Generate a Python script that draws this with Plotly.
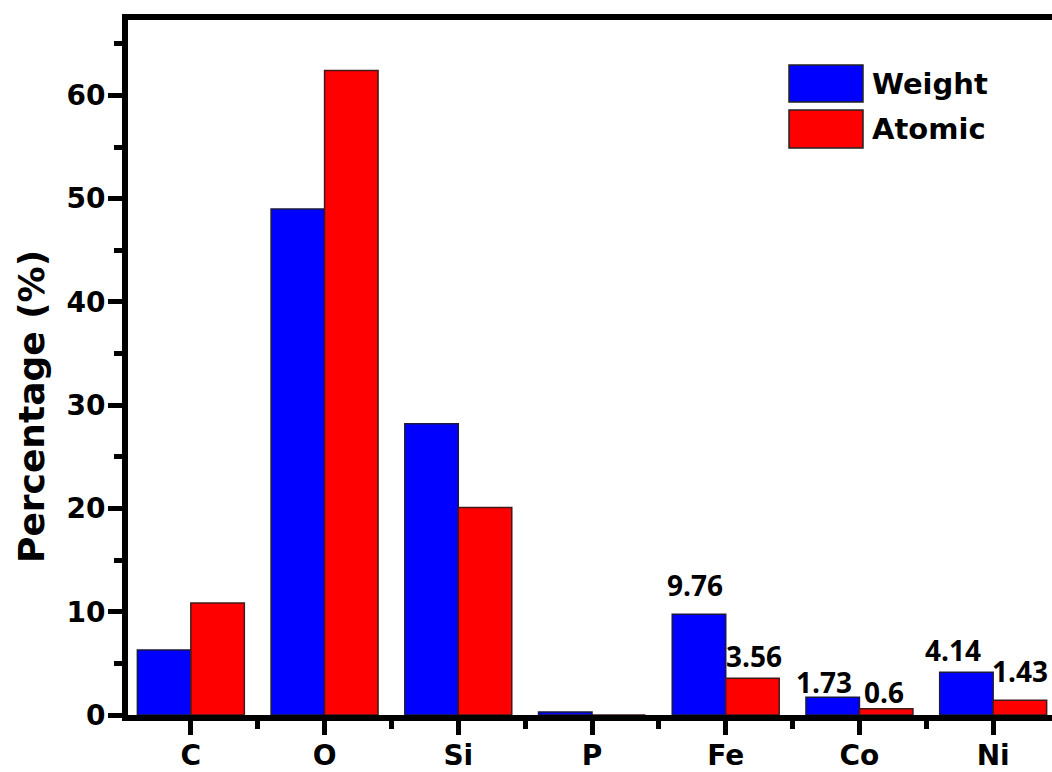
import plotly.graph_objects as go

elements = ["C", "O", "Si", "P", "Fe", "Co", "Ni"]
weight = [6.3, 49.0, 28.2, 0.3, 9.76, 1.73, 4.14]
atomic = [10.85, 62.4, 20.1, 0.0, 3.56, 0.6, 1.43]

# labelled values: (element index, series, value text, xshift px, yshift px)
labels = [
    (4, "Weight", "9.76", -4, 29),
    (4, "Atomic", "3.56", 2, 22),
    (5, "Weight", "1.73", -9, 15),
    (5, "Atomic", "0.6", -2, 17),
    (6, "Weight", "4.14", -13, 22),
    (6, "Atomic", "1.43", 0, 29),
]

xs = list(range(len(elements)))
FONT = "DejaVu Sans"

fig = go.Figure()
fig.add_trace(go.Bar(x=xs, y=weight, name="Weight",
                     marker=dict(color="#0000FF", line=dict(color="#1a1a40", width=1.5))))
fig.add_trace(go.Bar(x=xs, y=atomic, name="Atomic",
                     marker=dict(color="#FF0000", line=dict(color="#401a1a", width=1.5))))

series_vals = {"Weight": weight, "Atomic": atomic}
series_off = {"Weight": -0.2, "Atomic": 0.2}
for idx, s, txt, dx, dy in labels:
    fig.add_annotation(x=idx + series_off[s], y=series_vals[s][idx], text=txt,
                       showarrow=False, xanchor="center", yanchor="middle",
                       xshift=dx, yshift=dy,
                       font=dict(family="Open Sans", size=28, color="black", weight="bold"))

# manual legend (large swatches)
L = 128.0; R = 1052.0; T = 20.0; B = 715.0
def px(xp):
    return (xp - L) / (R - L)
def py(yp):
    return (B - yp) / (B - T)

legend_items = [("Weight", "#0000FF", 65, 102), ("Atomic", "#FF0000", 110, 148)]
for name, col, y0, y1 in legend_items:
    fig.add_shape(type="rect", xref="paper", yref="paper",
                  x0=px(789), x1=px(863), y0=py(y1), y1=py(y0),
                  fillcolor=col, line=dict(color="#222", width=1.5))
    fig.add_annotation(xref="paper", yref="paper", x=px(870), y=py((y0 + y1) / 2),
                       text=name, showarrow=False, xanchor="left", yanchor="middle",
                       font=dict(family=FONT, size=29, color="black", weight="bold"))

# y-axis title as rotated annotation
fig.add_annotation(xref="paper", yref="paper", x=px(31), y=py(407),
                   text="Percentage (%)", showarrow=False, textangle=-90,
                   xanchor="center", yanchor="middle",
                   font=dict(family=FONT, size=36, color="black", weight="bold"))

fig.update_layout(
    width=1052, height=772,
    margin=dict(l=128, r=0, t=20, b=57, autoexpand=False),
    paper_bgcolor="white", plot_bgcolor="white",
    barmode="group", bargap=0.2, bargroupgap=0,
    showlegend=False,
    font=dict(family=FONT, color="black"),
)
fig.update_xaxes(
    range=[-0.47, 6.44], tickmode="array", tickvals=xs, ticktext=elements,
    showgrid=False, zeroline=False, automargin=False,
    showline=True, linewidth=6, linecolor="black", mirror=True,
    ticks="outside", ticklen=14, tickwidth=5, tickcolor="black",
    ticklabelstandoff=-4,
    tickfont=dict(family=FONT, size=28, color="black", weight="bold"),
    minor=dict(tickmode="array", tickvals=[i - 0.5 for i in range(len(elements) + 1)],
               ticks="outside", ticklen=8, tickwidth=5, tickcolor="black", showgrid=False),
)
fig.update_yaxes(
    range=[0, 67.3], tickmode="linear", tick0=0, dtick=10,
    showgrid=False, zeroline=False, automargin=False,
    showline=True, linewidth=6, linecolor="black", mirror=False,
    ticks="outside", ticklen=14, tickwidth=5, tickcolor="black",
    ticklabelstandoff=-3,
    tickfont=dict(family=FONT, size=28, color="black", weight="bold"),
    minor=dict(tick0=0, dtick=5, ticks="outside", ticklen=8, tickwidth=5,
               tickcolor="black", showgrid=False),
)

fig.write_html("out.html", config={"displayModeBar": False},
               post_script="document.body.style.margin='0';document.body.style.overflow='hidden';")
